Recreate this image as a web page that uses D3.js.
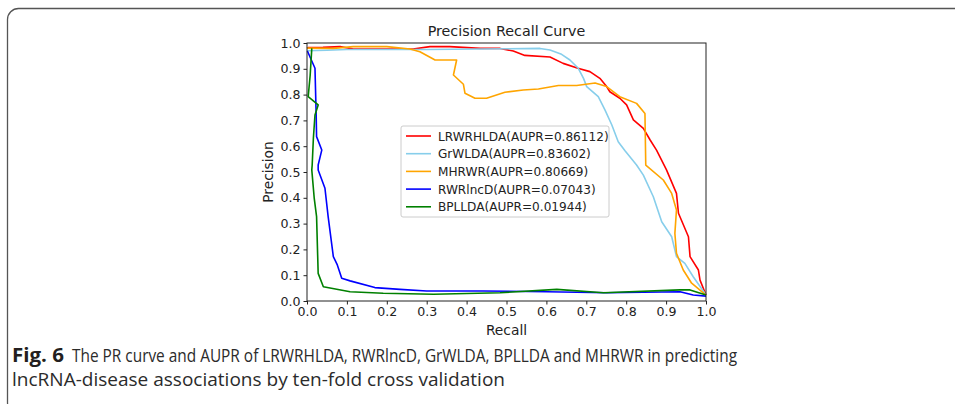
<!DOCTYPE html>
<html>
<head>
<meta charset="utf-8">
<script src="https://cdn.jsdelivr.net/npm/d3@7"></script>
<style>
  body { margin: 0; background: #fff; }
</style>
</head>
<body>
<div id="chart"></div>
<script>
// curves, [recall, precision]
const lrwrhlda = [[0,0.98],[0.003,0.982],[0.04,0.983],[0.083,0.986],[0.116,0.977],[0.19,0.977],[0.266,0.977],[0.308,0.986],[0.358,0.986],[0.434,0.979],[0.484,0.979],[0.517,0.969],[0.546,0.952],[0.609,0.946],[0.642,0.921],[0.679,0.902],[0.709,0.889],[0.734,0.863],[0.751,0.831],[0.759,0.811],[0.784,0.786],[0.801,0.760],[0.818,0.702],[0.843,0.669],[0.860,0.624],[0.876,0.585],[0.901,0.508],[0.926,0.417],[0.931,0.340],[0.956,0.249],[0.960,0.172],[0.981,0.120],[0.985,0.081],[1.0,0.023]];
const grwlda = [[0,0.97],[0.05,0.972],[0.1,0.975],[0.2,0.975],[0.3,0.975],[0.434,0.977],[0.584,0.979],[0.609,0.973],[0.638,0.956],[0.659,0.934],[0.680,0.902],[0.693,0.863],[0.701,0.831],[0.730,0.792],[0.747,0.740],[0.764,0.682],[0.780,0.617],[0.797,0.582],[0.826,0.527],[0.843,0.488],[0.868,0.404],[0.889,0.307],[0.914,0.249],[0.926,0.172],[0.947,0.146],[0.968,0.094],[1.0,0.023]];
const mhrwr = [[0,0.98],[0.066,0.979],[0.116,0.986],[0.2,0.986],[0.258,0.977],[0.283,0.966],[0.321,0.934],[0.375,0.934],[0.367,0.876],[0.392,0.840],[0.396,0.805],[0.421,0.786],[0.450,0.786],[0.496,0.809],[0.542,0.818],[0.580,0.822],[0.630,0.835],[0.676,0.835],[0.722,0.845],[0.751,0.831],[0.784,0.792],[0.826,0.766],[0.847,0.727],[0.849,0.527],[0.893,0.469],[0.914,0.417],[0.926,0.353],[0.922,0.262],[0.926,0.185],[0.943,0.120],[0.964,0.069],[1.0,0.023]];
const rwrlncd = [[0.001,0.969],[0.020,0.902],[0.023,0.721],[0.024,0.637],[0.037,0.585],[0.028,0.527],[0.028,0.508],[0.045,0.437],[0.053,0.327],[0.066,0.172],[0.076,0.140],[0.087,0.088],[0.108,0.078],[0.170,0.052],[0.233,0.045],[0.300,0.039],[0.441,0.039],[0.601,0.036],[0.751,0.032],[0.935,0.036],[0.968,0.023],[1.0,0.019]];
const bpllda = [[0.012,0.979],[0.008,0.876],[0.003,0.792],[0.028,0.760],[0.020,0.721],[0.016,0.631],[0.013,0.527],[0.012,0.508],[0.018,0.40],[0.024,0.327],[0.028,0.107],[0.041,0.055],[0.108,0.036],[0.191,0.030],[0.317,0.026],[0.484,0.032],[0.626,0.045],[0.743,0.032],[0.935,0.043],[0.960,0.043],[1.0,0.023]];

const seriesNames = ["LRWRHLDA(AUPR=0.86112)","GrWLDA(AUPR=0.83602)","MHRWR(AUPR=0.80669)","RWRlncD(AUPR=0.07043)","BPLLDA(AUPR=0.01944)"];
const seriesColors = ["#ff0000","#87ceeb","#ffa500","#0000ff","#008000"];
const seriesData = [lrwrhlda, grwlda, mhrwr, rwrlncd, bpllda];
const tickValues = [0,0.1,0.2,0.3,0.4,0.5,0.6,0.7,0.8,0.9,1.0];

const captionBold = "Fig. 6";
const captionLine1 = "The PR curve and AUPR of LRWRHLDA, RWRlncD, GrWLDA, BPLLDA and MHRWR in predicting";
const captionLine2 = "lncRNA-disease associations by ten-fold cross validation";

const width = 955, height = 404;
const svg = d3.select("#chart").append("svg")
  .attr("width", width)
  .attr("height", height)
  .style("font-family", "'DejaVu Sans', sans-serif");

// figure frame
svg.append("rect")
  .attr("x", 7.5).attr("y", 8.5)
  .attr("width", 1000).attr("height", 405)
  .attr("rx", 11)
  .attr("fill", "none")
  .attr("stroke", "#555")
  .attr("stroke-width", 1.3);

const plotL = 307, plotR = 706, plotT = 43, plotB = 301;
const x = d3.scaleLinear().domain([0,1]).range([plotL, plotR]);
const y = d3.scaleLinear().domain([0,1]).range([plotB, plotT]);

const g = svg.append("g");

const line = d3.line().x(d => x(d[0])).y(d => y(d[1]));

g.selectAll(".curve")
  .data(seriesData)
  .enter().append("path")
  .attr("class", "curve")
  .attr("d", line)
  .attr("fill", "none")
  .attr("stroke", (d, i) => seriesColors[i])
  .attr("stroke-width", 1.6)
  .attr("stroke-linejoin", "round");

// axes
const xAxis = g.append("g")
  .attr("transform", "translate(0," + plotB + ")")
  .call(d3.axisBottom(x).tickValues(tickValues).tickFormat(d3.format(".1f")).tickSize(3.5).tickPadding(3));
const yAxis = g.append("g")
  .attr("transform", "translate(" + plotL + ",0)")
  .call(d3.axisLeft(y).tickValues(tickValues).tickFormat(d3.format(".1f")).tickSize(3.5).tickPadding(3));
[xAxis, yAxis].forEach(a => {
  a.select(".domain").remove();
  a.selectAll("text").style("font-family", "'DejaVu Sans'").attr("font-size", 12.6).attr("fill", "#222");
  a.selectAll("line").attr("stroke", "#222");
});

g.append("rect")
  .attr("x", plotL).attr("y", plotT)
  .attr("width", plotR - plotL).attr("height", plotB - plotT)
  .attr("fill", "none")
  .attr("stroke", "#222")
  .attr("stroke-width", 1);

svg.append("text")
  .attr("x", (plotL + plotR) / 2).attr("y", 36)
  .attr("text-anchor", "middle")
  .attr("font-size", 14.3)
  .attr("fill", "#222")
  .text("Precision Recall Curve");

svg.append("text")
  .attr("x", (plotL + plotR) / 2).attr("y", 335)
  .attr("text-anchor", "middle")
  .attr("font-size", 13.8)
  .attr("fill", "#222")
  .text("Recall");

svg.append("text")
  .attr("transform", "translate(273," + ((plotT + plotB) / 2) + ") rotate(-90)")
  .attr("text-anchor", "middle")
  .attr("font-size", 13.8)
  .attr("fill", "#222")
  .text("Precision");

// legend
const legend = svg.append("g").attr("transform", "translate(401,126)");
legend.append("rect")
  .attr("width", 208).attr("height", 91)
  .attr("rx", 2)
  .attr("fill", "#fff")
  .attr("stroke", "#ccc");
const items = legend.selectAll(".item")
  .data(seriesNames)
  .enter().append("g")
  .attr("transform", (d, i) => "translate(0," + (10 + i * 17.7) + ")");
items.append("line")
  .attr("x1", 5).attr("x2", 30)
  .attr("stroke", (d, i) => seriesColors[i])
  .attr("stroke-width", 1.6);
items.append("text")
  .attr("x", 37).attr("y", 4.5)
  .attr("font-size", 12.1)
  .attr("fill", "#222")
  .text(d => d);

// caption
svg.append("text")
  .attr("x", 12).attr("y", 362)
  .style("font-family", "'Open Sans', 'Noto Sans', sans-serif")
  .style("font-weight", "bold")
  .attr("font-size", 19)
  .attr("fill", "#231f20")
  .attr("textLength", 52)
  .attr("lengthAdjust", "spacingAndGlyphs")
  .text(captionBold);
svg.append("text")
  .attr("x", 72).attr("y", 362)
  .style("font-family", "'Open Sans', 'Noto Sans', sans-serif")
  .attr("font-size", 19)
  .attr("fill", "#2b2b2b")
  .attr("textLength", 665)
  .attr("lengthAdjust", "spacingAndGlyphs")
  .text(captionLine1);
svg.append("text")
  .attr("x", 12).attr("y", 386)
  .style("font-family", "'Open Sans', 'Noto Sans', sans-serif")
  .attr("font-size", 19)
  .attr("fill", "#2b2b2b")
  .attr("textLength", 493)
  .attr("lengthAdjust", "spacingAndGlyphs")
  .text(captionLine2);
</script>
</body>
</html>
